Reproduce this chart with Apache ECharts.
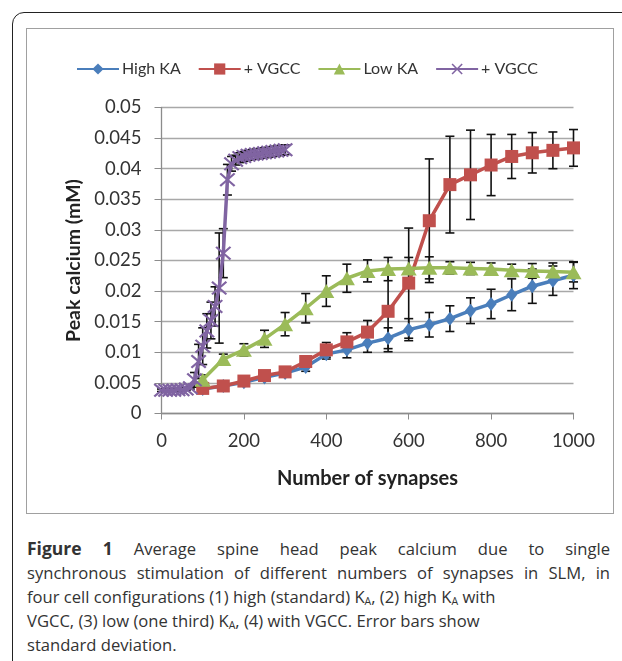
<!DOCTYPE html>
<html>
<head>
<meta charset="utf-8">
<script src="https://cdn.jsdelivr.net/npm/echarts@6/dist/echarts.min.js"></script>
<style>
  html, body { margin: 0; padding: 0; background: #fff; width: 622px; height: 661px; overflow: hidden; }
  #frame { position: absolute; left: 12px; top: 12px; width: 700px; height: 700px;
           border: 1.5px solid #222; border-radius: 12px; }
  #box { position: absolute; left: 26px; top: 28px; width: 588px; height: 486px;
         border: 1.5px solid #a0a0a0; box-sizing: border-box; }
  #chart { position: absolute; left: 0; top: 0; width: 585px; height: 483px; }
  #caption { position: absolute; left: 27px; top: 536px; width: 583px;
             font-family: "Open Sans", sans-serif; font-size: 16.6px; line-height: 24px; color: #333; }
  #caption .j { text-align: justify; text-align-last: justify; white-space: nowrap; }
  #caption b { font-size: 17.5px; }
  #caption sub { font-size: 10.5px; vertical-align: -2px; line-height: 0; }
</style>
</head>
<body>
<div id="frame"></div>
<div id="box"><div id="chart"></div></div>
<div id="caption">
  <div class="j"><b>Figure 1</b> Average spine head peak calcium due to single</div>
  <div class="j">synchronous stimulation of different numbers of synapses in SLM, in</div>
  <div>four cell configurations (1) high (standard) K<sub>A</sub>, (2) high K<sub>A</sub> with</div>
  <div>VGCC, (3) low (one third) K<sub>A</sub>, (4) with VGCC. Error bars show</div>
  <div>standard deviation.</div>
</div>
<script>
// number of synapses
var synapses = [100, 150, 200, 250, 300, 350, 400, 450, 500, 550, 600, 650, 700, 750, 800, 850, 900, 950, 1000];
var synapsesLow = [0, 10, 20, 30, 40, 50, 60, 70, 80, 90, 100, 110, 120, 130, 140, 150, 160, 170, 180, 190, 200,
                   210, 220, 230, 240, 250, 260, 270, 280, 290, 300];

// High KA
var highKA   = [0.0040, 0.0045, 0.0051, 0.0059, 0.0066, 0.0076, 0.0097, 0.0104, 0.0115, 0.0123, 0.0137, 0.0145,
                0.0155, 0.0168, 0.0179, 0.0194, 0.0208, 0.0217, 0.0226];
var highKAsd = [0.0003, 0.0003, 0.0004, 0.0005, 0.0006, 0.0007, 0.0008, 0.0013, 0.0015, 0.0017, 0.0018, 0.0020,
                0.0021, 0.0021, 0.0024, 0.0026, 0.0028, 0.0024, 0.0022];
// High KA + VGCC
var highVgcc   = [0.0041, 0.0045, 0.0053, 0.0062, 0.0068, 0.0085, 0.0104, 0.0117, 0.0133, 0.0167, 0.0213, 0.0315,
                  0.0374, 0.0390, 0.0406, 0.0420, 0.0426, 0.0430, 0.0434];
var highVgccSd = [0.0003, 0.0004, 0.0005, 0.0005, 0.0006, 0.0008, 0.0012, 0.0015, 0.0019, 0.0066, 0.0090, 0.0101,
                  0.0079, 0.0073, 0.0050, 0.0036, 0.0033, 0.0030, 0.0030];
// Low KA
var lowKA   = [0.0055, 0.0089, 0.0104, 0.0122, 0.0146, 0.0172, 0.0200, 0.0221, 0.0233, 0.0236, 0.0237, 0.0238,
               0.0238, 0.0237, 0.0236, 0.0234, 0.0233, 0.0232, 0.0231];
var lowKAsd = [0.0008, 0.0008, 0.0010, 0.0014, 0.0019, 0.0024, 0.0025, 0.0023, 0.0018, 0.0019, 0.0018, 0.0018,
               0.0010, 0.0010, 0.0010, 0.0010, 0.0012, 0.0014, 0.0016];
// Low KA + VGCC
var lowVgcc   = [0.0038, 0.0038, 0.0038, 0.0038, 0.0039, 0.0039, 0.0040, 0.0042, 0.0055, 0.0085, 0.0110, 0.0135,
                 0.0152, 0.0175, 0.0205, 0.0262, 0.0382, 0.0408, 0.0414, 0.0418, 0.0420, 0.0422, 0.0423, 0.0424,
                 0.0425, 0.0426, 0.0427, 0.0428, 0.0429, 0.0430, 0.0431];
var lowVgccSd = [0.0002, 0.0002, 0.0002, 0.0002, 0.0002, 0.0002, 0.0002, 0.0002, 0.0012, 0.0028, 0.0030, 0.0028,
                 0.0030, 0.0032, 0.0090, 0.0040, 0.0025, 0.0012, 0.0008, 0.0008, 0.0008, 0.0008, 0.0008, 0.0008,
                 0.0008, 0.0008, 0.0008, 0.0008, 0.0008, 0.0008, 0.0008];

var yTickLabels = ['0', '0.005', '0.01', '0.015', '0.02', '0.025', '0.03', '0.035', '0.04', '0.045', '0.05'];
var xTickLabels = ['0', '200', '400', '600', '800', '1000'];
var legendNames = {highKA: 'High KA', highVgcc: '+ VGCC', lowKA: 'Low KA', lowVgcc: '+ VGCC'};

var font = 'Lato, "Open Sans", sans-serif';
var crossPath = 'path://M0,1 L1,0 L5,4 L9,0 L10,1 L6,5 L10,9 L9,10 L5,6 L1,10 L0,9 L4,5 Z';

function pairs(xs, ys) { return xs.map(function (x, i) { return [x, ys[i]]; }); }
function triples(xs, ys, sd) { return xs.map(function (x, i) { return [x, ys[i], sd[i]]; }); }

function errBar(params, api) {
  var x = api.value(0), m = api.value(1), s = api.value(2);
  var top = api.coord([x, m + s]), bot = api.coord([x, m - s]);
  var w = 4.5, st = {stroke: '#111', lineWidth: 1.6};
  return {type: 'group', children: [
    {type: 'line', shape: {x1: top[0], y1: top[1], x2: bot[0], y2: bot[1]}, style: st},
    {type: 'line', shape: {x1: top[0] - w, y1: top[1], x2: top[0] + w, y2: top[1]}, style: st},
    {type: 'line', shape: {x1: bot[0] - w, y1: bot[1], x2: bot[0] + w, y2: bot[1]}, style: st}
  ]};
}

function lineSeries(name, data, color, symbol, size) {
  return {name: name, type: 'line', data: data, symbol: symbol, symbolSize: size,
          lineStyle: {color: color, width: 3.5}, itemStyle: {color: color, opacity: 1},
          showSymbol: true, silent: true};
}
function errSeries(data) {
  return {type: 'custom', data: data, renderItem: errBar, encode: {x: 0, y: 1}, silent: true};
}

var chart = echarts.init(document.getElementById('chart'));
var option = {
  animation: false,
  textStyle: {fontFamily: font},
  legend: {
    data: ['highKA', 'highVgcc', 'lowKA', 'lowVgcc'],
    left: 44, top: 27, itemWidth: 42, itemHeight: 14, itemGap: 17,
    formatter: function (n) { return legendNames[n]; },
    textStyle: {fontFamily: font, fontSize: 16, color: '#333', padding: [0, 0, 0, -2]}
  },
  grid: {left: 134.5, right: 38.5, top: 78.5, bottom: 98.5},
  xAxis: {
    type: 'value', min: 0, max: 1000, interval: 200,
    name: 'Number of synapses', nameLocation: 'middle', nameGap: 55,
    nameTextStyle: {fontFamily: font, fontSize: 20, fontWeight: 'bold', color: '#222'},
    axisLine: {lineStyle: {color: '#8c8c8c', width: 1.3}},
    axisTick: {show: true, length: 6, lineStyle: {color: '#8c8c8c'}},
    axisLabel: {fontFamily: font, fontSize: 18.5, color: '#333', margin: 18,
                formatter: function (v) { return xTickLabels[Math.round(v / 200)]; }},
    splitLine: {show: false}
  },
  yAxis: {
    type: 'value', min: 0, max: 0.05, interval: 0.005,
    name: 'Peak calcium (mM)', nameLocation: 'middle', nameGap: 78,
    nameTextStyle: {fontFamily: font, fontSize: 19.5, fontWeight: 'bold', color: '#222'},
    axisLine: {show: true, lineStyle: {color: '#8c8c8c', width: 1.3}},
    axisTick: {show: true, length: 7, lineStyle: {color: '#8c8c8c'}},
    axisLabel: {fontFamily: font, fontSize: 18.5, color: '#333', margin: 20,
                formatter: function (v) { return yTickLabels[Math.round(v / 0.005)]; }},
    splitLine: {show: true, lineStyle: {color: '#a8a8a8', width: 1.3}}
  },
  series: [
    lineSeries('highKA', pairs(synapses, highKA), '#4a7ebb', 'diamond', [11, 14]),
    errSeries(triples(synapses, highKA, highKAsd)),
    lineSeries('highVgcc', pairs(synapses, highVgcc), '#c0504d', 'rect', 13),
    errSeries(triples(synapses, highVgcc, highVgccSd)),
    lineSeries('lowKA', pairs(synapses, lowKA), '#9bbb59', 'triangle', [16, 14]),
    errSeries(triples(synapses, lowKA, lowKAsd)),
    lineSeries('lowVgcc', pairs(synapsesLow, lowVgcc), '#8064a2', crossPath, [16, 14]),
    errSeries(triples(synapsesLow, lowVgcc, lowVgccSd))
  ]
};
chart.setOption(option);
</script>
</body>
</html>
